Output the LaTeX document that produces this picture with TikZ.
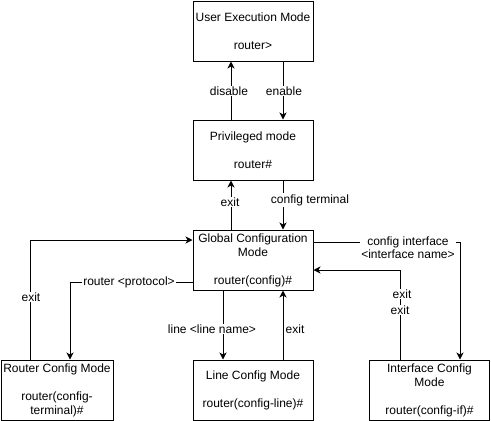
\documentclass[tikz,border=0pt]{standalone}
\usepackage{fontspec}
\setmainfont{Liberation Sans}
\usetikzlibrary{arrows.meta,calc}
\tikzset{
  box/.style={draw, line width=1pt, minimum width=120pt, minimum height=60pt, align=center, inner sep=1pt, font=\fontsize{12}{14}\selectfont},
  lbl/.style={fill=white, inner sep=1pt, align=center, font=\fontsize{12}{13}\selectfont},
  arr/.style={line width=1pt, -{Stealth[length=7pt,width=7pt,inset=2pt]}},
}
\begin{document}
\begin{tikzpicture}[x=1pt,y=-1pt]
\useasboundingbox (0,0) rectangle (491,421);
\node[box] (ue) at (253,31) {User Execution Mode\\[14pt]router>};
\node[box] (pm) at (253,150) {Privileged mode\\[14pt]router\#};
\node[box] (gc) at (253,260) {Global Configuration\\Mode\\[14pt]router(config)\#};
\node[box, minimum width=112pt] (rc) at (57,390) {Router Config Mode\\[14pt]router(config-\\terminal)\#};
\node[box] (lc) at (253,390) {Line Config Mode\\[14pt]router(config-line)\#};
\node[box] (ic) at (429.5,390) {Interface Config\\Mode\\[14pt]router(config-if)\#};
% user <-> privileged
\draw[arr] ($(pm.north)+(-22,0)$) -- ($(ue.south)+(-22,0)$);
\node[lbl] at (229,91) {disable};
\draw[arr] ($(ue.south)+(30,0)$) -- ($(pm.north)+(30,0)$);
\node[lbl] at (284,91) {enable};
% privileged <-> global
\draw[arr] ($(gc.north)+(-22,0)$) -- ($(pm.south)+(-22,0)$);
\node[lbl] at (230,202) {exit};
\draw[arr] ($(pm.south)+(30,0)$) -- ($(gc.north)+(30,0)$);
\node[lbl] at (310,200) {config terminal};
% global <-> line
\draw[arr] ($(gc.south)+(-30,0)$) -- ($(lc.north)+(-30,0)$);
\node[lbl] at (212,329) {line <line name>};
\draw[arr] ($(lc.north)+(30,0)$) -- ($(gc.south)+(30,0)$);
\node[lbl] at (295,329) {exit};
% global <-> router
\coordinate (r1) at (30,240);
\draw[arr] ($(rc.north)+(-27,0)$) -- (r1) -- ($(gc.west)+(0,-20)$);
\node[lbl] at (31,297) {exit};
\coordinate (r2) at (70,282);
\draw[arr] ($(gc.west)+(0,22)$) -- (r2) -- ($(rc.north)+(13,0)$);
\node[lbl] at (129,282) {router <protocol>};
% global <-> interface
\coordinate (i1) at (460,242);
\draw[arr] ($(gc.east)+(0,-18)$) -- (i1) -- ($(ic.north)+(30.5,0)$);
\node[lbl] at (408,248) {config interface\\<interface name>};
\coordinate (i2) at (400,270);
\draw[arr] ($(ic.north)+(-29.5,0)$) -- (i2) -- ($(gc.east)+(0,10)$);
\node[lbl] at (402,294) {exit};
\node[lbl] at (400,310) {exit};
\end{tikzpicture}
\end{document}
